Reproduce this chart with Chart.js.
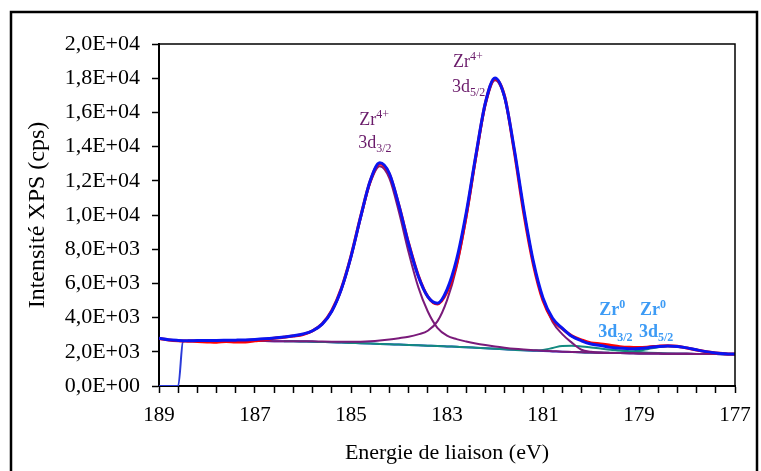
<!DOCTYPE html>
<html>
<head>
<meta charset="utf-8">
<script src="https://cdn.jsdelivr.net/npm/chart.js@4.4.1/dist/chart.umd.min.js"></script>
<style>
  body { margin: 0; background: #fff; }
  canvas { display: block; }
</style>
</head>
<body>
<canvas id="xpsChart" width="761" height="471"></canvas>
<script>
// binding energy grid (eV), 189 -> 177 every 0.2
var energy = [189.0, 188.8, 188.6, 188.4, 188.2, 188.0, 187.8, 187.6, 187.4, 187.2,
  187.0, 186.8, 186.6, 186.4, 186.2, 186.0, 185.8, 185.6, 185.4, 185.2,
  185.0, 184.8, 184.6, 184.4, 184.2, 184.0, 183.8, 183.6, 183.4, 183.2,
  183.0, 182.8, 182.6, 182.4, 182.2, 182.0, 181.8, 181.6, 181.4, 181.2,
  181.0, 180.8, 180.6, 180.4, 180.2, 180.0, 179.8, 179.6, 179.4, 179.2,
  179.0, 178.8, 178.6, 178.4, 178.2, 178.0, 177.8, 177.6, 177.4, 177.2, 177.0];

// measured spectrum (red), full grid
var mesure = [2780, 2690, 2640, 2620, 2600, 2580, 2560, 2600, 2570, 2580,
  2640, 2700, 2790, 2850, 2920, 3010, 3230, 3640, 4420, 5720,
  7600, 9900, 11980, 13000, 12380, 10540, 8350, 6480, 5230, 4800,
  5500, 7150, 9950, 13400, 16550, 17960, 16950, 13750, 10100, 7100,
  5000, 3880, 3350, 2930, 2700, 2520, 2460, 2380, 2300, 2260,
  2250, 2280, 2330, 2360, 2330, 2220, 2110, 2000, 1930, 1890, 1865];

// fitted envelope (blue), full grid
var enveloppe = [2790, 2700, 2665, 2650, 2654, 2656, 2661, 2671, 2682, 2697,
  2724, 2760, 2807, 2865, 2936, 3039, 3232, 3620, 4375, 5670,
  7565, 9871, 12003, 13055, 12425, 10536, 8303, 6435, 5226, 4840,
  5641, 7401, 10130, 13484, 16573, 18016, 16904, 13874, 10327, 7271,
  5146, 3960, 3387, 2907, 2643, 2454, 2370, 2259, 2215, 2180,
  2195, 2245, 2310, 2345, 2316, 2230, 2115, 2010, 1933, 1888, 1864];

// Zr4+ 3d3/2 component, from 188.4 eV
var zr4_3d32 = [2650, 2654, 2656, 2661, 2671, 2682, 2697,
  2724, 2760, 2807, 2865, 2928, 3023, 3212, 3596, 4344, 5623,
  7502, 9777, 11862, 12851, 12142, 10159, 7822, 5795, 4356, 3400,
  2945, 2742, 2600, 2485, 2392, 2310, 2239, 2177, 2132, 2096,
  2061, 2036, 2010, 1990, 1970, 1955, 1945, 1935, 1925, 1915,
  1905, 1900, 1895, 1890, 1885, 1880, 1875, 1870, 1865, 1860, 1855];

// Zr4+ 3d5/2 component, from 188.4 eV
var zr4_3d52 = [2640, 2640, 2640, 2640, 2640, 2640, 2635,
  2630, 2625, 2620, 2615, 2618, 2616, 2610, 2599, 2591, 2587,
  2583, 2594, 2621, 2664, 2723, 2797, 2881, 3020, 3230, 3780,
  5011, 6949, 9795, 13234, 16386, 17881, 16810, 13812, 10285, 7227,
  5057, 3743, 3031, 2535, 2120, 2005, 1955, 1935, 1925, 1915,
  1905, 1900, 1895, 1890, 1885, 1880, 1875, 1870, 1865, 1860, 1855];

// Zr0 3d3/2 component, from 186.4 eV
var zr0_3d32 = [2615, 2610, 2600, 2590, 2575, 2560, 2540,
  2520, 2500, 2480, 2460, 2440, 2420, 2400, 2380, 2360, 2340,
  2315, 2290, 2265, 2235, 2205, 2175, 2145, 2115, 2090, 2078,
  2108, 2221, 2346, 2352, 2313, 2254, 2188, 2120, 2085, 2030,
  1985, 1950, 1925, 1905, 1891, 1880, 1875, 1870, 1865, 1860, 1855];

// Zr0 3d5/2 component, from 180.4 eV
var zr0_3d52 = [1985, 1970, 1955, 1947, 1944, 1965, 2005,
  2075, 2170, 2265, 2320, 2305, 2230, 2115, 2010, 1933, 1888, 1864];

// background: step at the low end, then from 188.4 eV on the grid
var fondStepEnergy = [189.0, 188.6, 188.5];
var fondStep = [0, 0, 2600];
var fond = [2640, 2640, 2640, 2640, 2640, 2640, 2635,
  2630, 2625, 2620, 2615, 2610, 2600, 2590, 2575, 2560, 2540,
  2520, 2500, 2480, 2460, 2440, 2420, 2400, 2380, 2360, 2340,
  2315, 2290, 2265, 2235, 2205, 2175, 2145, 2115, 2090, 2065,
  2040, 2020, 2000, 1985, 1970, 1955, 1945, 1935, 1925, 1915,
  1905, 1900, 1895, 1890, 1885, 1880, 1875, 1870, 1865, 1860, 1855];

var yTicks = [0, 2000, 4000, 6000, 8000, 10000, 12000, 14000, 16000, 18000, 20000];

// peak labels: [main, sup, line2, sub]
var labelsZr4 = [['Zr', '4+', '3d', '3/2'], ['Zr', '4+', '3d', '5/2']];
var labelsZr0 = [['Zr', '0', '3d', '3/2'], ['Zr', '0', '3d', '5/2']];

// points aligned to the end of the energy grid
function pts(values) {
  var off = energy.length - values.length;
  return values.map((v, i) => ({ x: energy[off + i], y: v }));
}

function sci(v) {
  if (v === 0) return '0,0E+00';
  var e = Math.floor(Math.log10(v) + 1e-9);
  var m = v / Math.pow(10, e);
  return m.toFixed(1).replace('.', ',') + 'E+' + String(e).padStart(2, '0');
}

var serif = "'Liberation Serif', 'Times New Roman', serif";

// top/right plot border, outer frame and peak annotations
var decor = {
  id: 'decor',
  afterDraw(chart) {
    var ctx = chart.ctx, a = chart.chartArea;
    var xs = chart.scales.x, ys = chart.scales.y;
    ctx.save();
    ctx.strokeStyle = '#000';
    ctx.lineWidth = 1.5;
    ctx.beginPath();
    ctx.moveTo(a.left, a.top);
    ctx.lineTo(a.right, a.top);
    ctx.lineTo(a.right, a.bottom);
    ctx.stroke();

    ctx.lineWidth = 2.5;
    ctx.beginPath();
    ctx.moveTo(11, 471);
    ctx.lineTo(11, 12);
    ctx.lineTo(757, 12);
    ctx.lineTo(757, 471);
    ctx.stroke();

    function label(lab, e, i1, i2, color, bold) {
      var w = bold ? 'bold ' : '';
      var x = xs.getPixelForValue(e);
      var y1 = ys.getPixelForValue(i1);
      var y2 = ys.getPixelForValue(i2);
      ctx.fillStyle = color;
      ctx.textAlign = 'left';
      ctx.textBaseline = 'alphabetic';
      ctx.font = w + '18px ' + serif;
      ctx.fillText(lab[0], x, y1);
      var w1 = ctx.measureText(lab[0]).width;
      ctx.fillText(lab[2], x - 1, y2);
      var w2 = ctx.measureText(lab[2]).width;
      ctx.font = w + '12px ' + serif;
      ctx.fillText(lab[1], x + w1, y1 - 7);
      ctx.fillText(lab[3], x - 1 + w2, y2 + 4);
    }
    label(labelsZr4[0], 184.83, 15260, 13920, '#6a1b6a', false);
    label(labelsZr4[1], 182.875, 18650, 17190, '#6a1b6a', false);
    label(labelsZr0[0], 179.83, 4150, 2860, '#3d9bf5', true);
    label(labelsZr0[1], 178.98, 4150, 2860, '#3d9bf5', true);
    ctx.restore();
  }
};

function line(data, color, width) {
  return {
    data: data,
    borderColor: color,
    borderWidth: width,
    pointRadius: 0,
    fill: false,
    cubicInterpolationMode: 'monotone'
  };
}

var fondPts = fondStepEnergy.map((e, i) => ({ x: e, y: fondStep[i] })).concat(pts(fond));

new Chart(document.getElementById('xpsChart').getContext('2d'), {
  type: 'line',
  data: {
    datasets: [
      line(pts(enveloppe), '#0a14f0', 3),
      line(pts(mesure), '#ff0000', 3),
      line(pts(zr4_3d32), '#7a1a7a', 2),
      line(pts(zr4_3d52), '#7a1a7a', 2),
      line(pts(zr0_3d32), '#138a80', 2),
      line(pts(zr0_3d52), '#138a80', 2),
      line(fondPts, '#2a3ad8', 2)
    ]
  },
  options: {
    responsive: false,
    animation: false,
    layout: { padding: { left: 0, top: 44, right: 26, bottom: 0 } },
    plugins: { legend: { display: false }, tooltip: { enabled: false } },
    scales: {
      x: {
        type: 'linear',
        reverse: true,
        min: 177,
        max: 189,
        afterFit: s => { s.height = 85; },
        grid: { drawOnChartArea: false, drawTicks: true, tickLength: 7, tickColor: '#000', tickWidth: 1.5 },
        border: { display: true, color: '#000', width: 2 },
        ticks: {
          stepSize: 0.4,
          maxTicksLimit: 60,
          autoSkip: false,
          maxRotation: 0,
          padding: 10,
          color: '#000',
          font: { family: serif, size: 21 },
          callback: v => (Math.abs(v - Math.round(v)) < 1e-6 && Math.round(v) % 2 === 1) ? String(Math.round(v)) : ''
        },
        title: {
          display: true,
          text: 'Energie de liaison (eV)',
          color: '#000',
          font: { family: serif, size: 22 },
          padding: { top: 0, bottom: 5 }
        }
      },
      y: {
        type: 'linear',
        min: 0,
        max: 20000,
        afterFit: s => { s.width = 159; },
        afterBuildTicks: s => { s.ticks = yTicks.map(v => ({ value: v })); },
        grid: { drawOnChartArea: false, drawTicks: true, tickLength: 7, tickColor: '#000', tickWidth: 1.5 },
        border: { display: true, color: '#000', width: 2 },
        ticks: {
          padding: 12,
          color: '#000',
          font: { family: serif, size: 22 },
          callback: v => sci(v)
        },
        title: {
          display: true,
          text: 'Intensité XPS (cps)',
          color: '#000',
          font: { family: serif, size: 24 },
          padding: { top: 23, bottom: 0 }
        }
      }
    }
  },
  plugins: [decor]
});
</script>
</body>
</html>
